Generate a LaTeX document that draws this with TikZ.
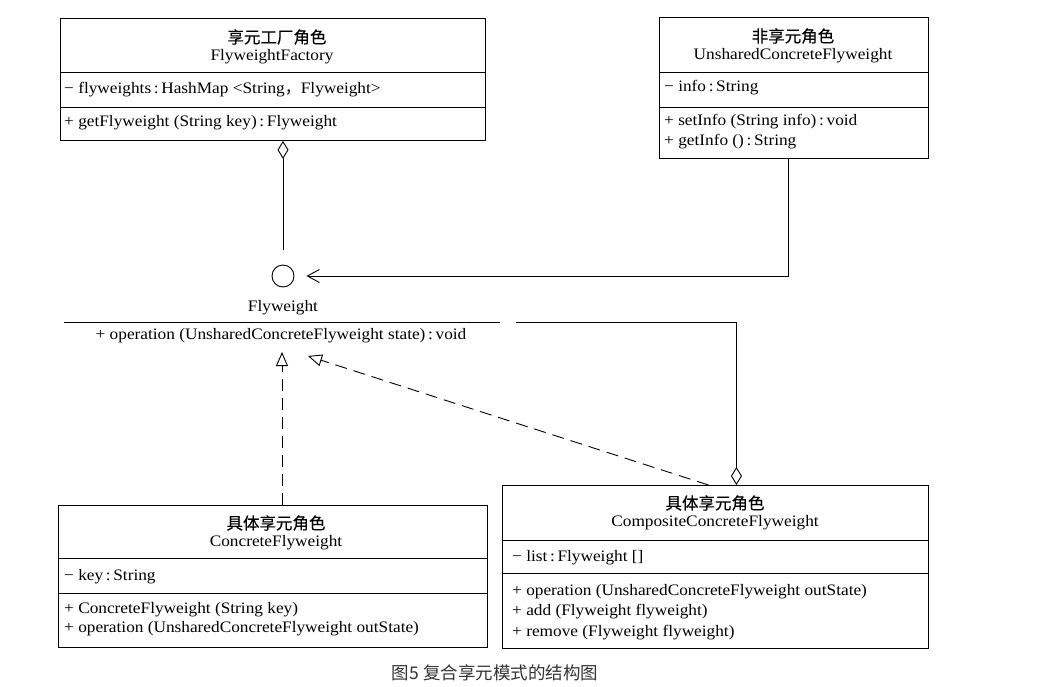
\documentclass[tikz,border=0pt]{standalone}
\usepackage{fontspec}
\setmainfont[FakeStretch=1.08]{Liberation Serif}
\newfontfamily\cjk[FakeBold=0.3]{Noto Sans CJK SC}
\newfontfamily\cjkcap{Noto Sans CJK SC}
\usetikzlibrary{arrows.meta}

\begin{document}
\begin{tikzpicture}[x=1pt, y=-1pt,
    classbox/.style={draw, line width=0.9pt, anchor=north west, inner sep=0pt},
    entitle/.style={inner sep=0pt, font=\fontsize{16}{18}\selectfont},
    cntitle/.style={inner sep=0pt, font=\cjk\fontsize{16.5}{18}\selectfont},
    member/.style={anchor=west, inner sep=0pt, font=\fontsize{16}{18}\selectfont},
    sep/.style={line width=0.9pt},
    link/.style={line width=0.9pt},
    agg/.style={link, {Diamond[open, length=18pt, width=11pt, line width=0.9pt]}-},
    dep/.style={link, -{Straight Barb[length=12pt, width=13pt, line width=0.9pt]}},
    real/.style={link, dash pattern=on 12pt off 7pt,
      -{Triangle[open, length=14pt, width=12pt, line width=0.9pt]}},
  ]
    \useasboundingbox (0,0) rectangle (1045,686);

    % FlyweightFactory
    \node[classbox, minimum width=425pt, minimum height=122pt] (fac) at (60,18) {};
    \draw[sep] ([yshift=-54pt]fac.north west) -- ([yshift=-54pt]fac.north east);
    \draw[sep] ([yshift=-89pt]fac.north west) -- ([yshift=-89pt]fac.north east);
    \node[cntitle] (faccn) at (277,37) {享元工厂角色};
    \node[entitle] (facen) at (272,57) {FlyweightFactory};
    \node[member] (facattr) at (64,90) {− flyweights\,:\,HashMap <String{\cjkcap ，}Flyweight>};
    \node[member] (facop) at (64,123) {+ getFlyweight (String key)\,:\,Flyweight};

    % UnsharedConcreteFlyweight
    \node[classbox, minimum width=269pt, minimum height=141pt] (uns) at (659,17) {};
    \draw[sep] ([yshift=-55pt]uns.north west) -- ([yshift=-55pt]uns.north east);
    \draw[sep] ([yshift=-90pt]uns.north west) -- ([yshift=-90pt]uns.north east);
    \node[cntitle] (unscn) at (793,36) {非享元角色};
    \node[entitle] (unsen) at (793,56) {UnsharedConcreteFlyweight};
    \node[member] (unsattr) at (664,88) {− info\,:\,String};
    \node[member] (unsset) at (664,122) {+ setInfo (String info)\,:\,void};
    \node[member] (unsget) at (664,142) {+ getInfo ()\,:\,String};

    % Flyweight (interface)
    \node[draw, circle, line width=0.9pt, minimum size=22pt, inner sep=0pt] (fwcirc) at (283,276) {};
    \node[entitle] (fwname) at (283,308) {Flyweight};
    \coordinate (fwleft) at (64,322);
    \coordinate (fwright) at (500,322);
    \coordinate (fwlink) at (516,322);
    \draw[sep] (fwleft) -- (fwright);
    \node[entitle] (fwop) at (281,336) {+ operation (UnsharedConcreteFlyweight state)\,:\,void};
    \coordinate (fwtri) at (282,352);
    \coordinate (fwtrib) at (308,356);

    % ConcreteFlyweight
    \node[classbox, minimum width=429pt, minimum height=142pt] (cf) at (58,505) {};
    \draw[sep] ([yshift=-53pt]cf.north west) -- ([yshift=-53pt]cf.north east);
    \draw[sep] ([yshift=-88pt]cf.north west) -- ([yshift=-88pt]cf.north east);
    \node[cntitle] (cfcn) at (276,523) {具体享元角色};
    \node[entitle] (cfen) at (276,543) {ConcreteFlyweight};
    \node[member] (cfattr) at (64,577) {− key\,:\,String};
    \node[member] (cfctor) at (64,610) {+ ConcreteFlyweight (String key)};
    \node[member] (cfop) at (64,629) {+ operation (UnsharedConcreteFlyweight outState)};

    % CompositeConcreteFlyweight
    \node[classbox, minimum width=426pt, minimum height=163pt] (ccf) at (502,485) {};
    \draw[sep] ([yshift=-55pt]ccf.north west) -- ([yshift=-55pt]ccf.north east);
    \draw[sep] ([yshift=-88pt]ccf.north west) -- ([yshift=-88pt]ccf.north east);
    \node[cntitle] (ccfcn) at (715,503) {具体享元角色};
    \node[entitle] (ccfen) at (715,523) {CompositeConcreteFlyweight};
    \node[member] (ccfattr) at (512,558) {− list\,:\,Flyweight []};
    \node[member] (ccfop) at (512,592) {+ operation (UnsharedConcreteFlyweight outState)};
    \node[member] (ccfadd) at (512,612) {+ add (Flyweight flyweight)};
    \node[member] (ccfrem) at (512,633) {+ remove (Flyweight flyweight)};

    % connectors
    \draw[agg, shorten >=15pt] (fac.south -| fwcirc) -- (fwcirc.north);
    \draw[dep, shorten >=12pt] (uns.south -| 788,0) |- (fwcirc.east);
    \draw[real] (cf.north -| fwtri) -- (fwtri);
    \draw[real] ([xshift=-7pt]ccf.north) -- (fwtrib);
    \draw[agg] ([xshift=21pt]ccf.north) |- (fwlink);

    % caption
    \node[font=\cjkcap\fontsize{17.5}{19}\selectfont, text=black!80] (caption) at (495,673) {图5 复合享元模式的结构图};
  \end{tikzpicture}
\end{document}
